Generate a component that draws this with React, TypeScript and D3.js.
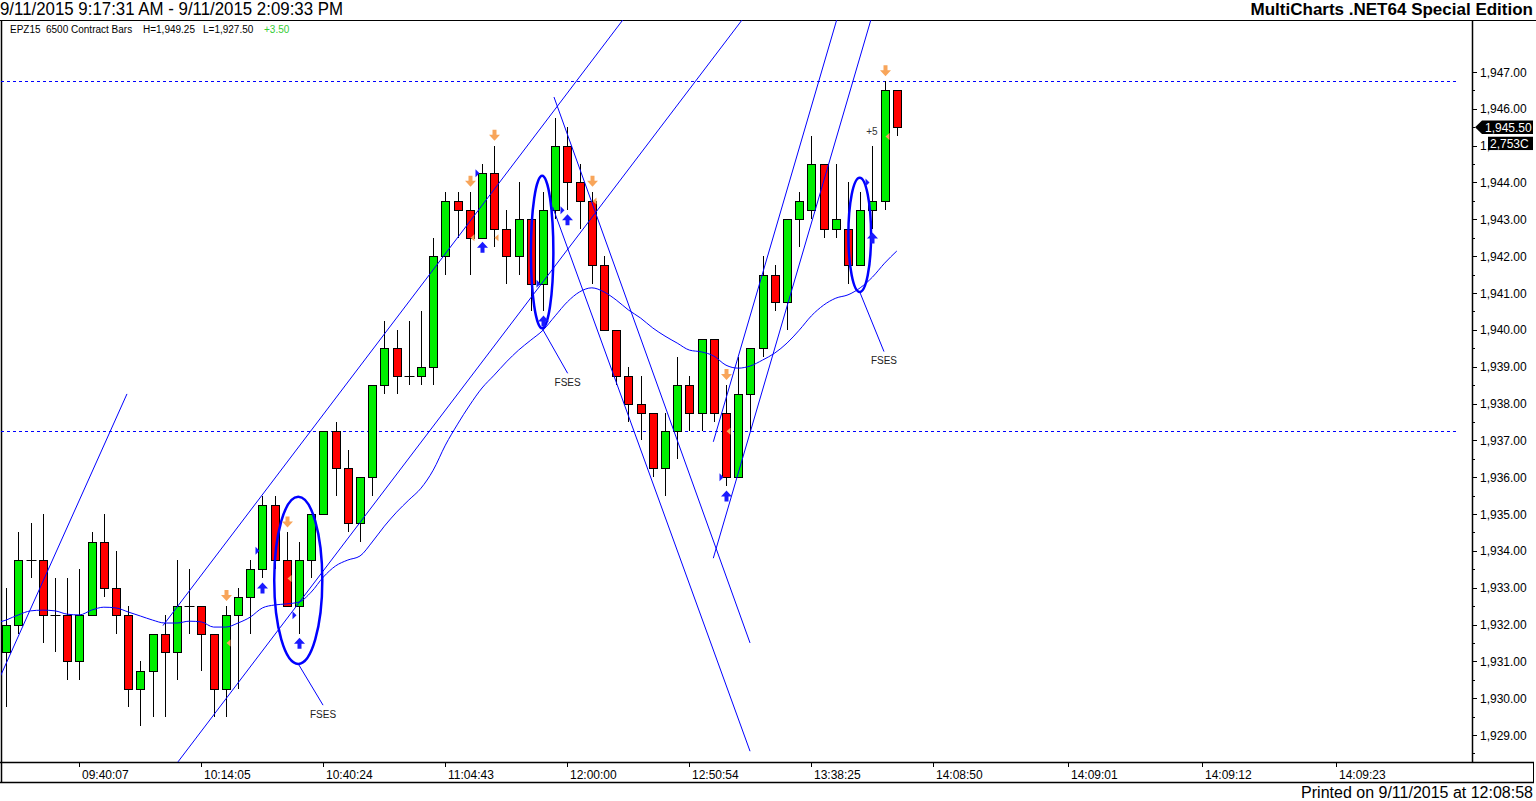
import * as d3 from 'd3'

// ---- bar data (EPZ15, 6500 contract bars) ----
const opens = [
  1931.25, 1932, 1933.75, 1933.75, 1932.25, 1932.25, 1931, 1932.25, 1934.25, 1933,
  1932.25, 1930.25, 1930.75, 1931.75, 1931.25, 1932.5, 1932.5, 1931.75, 1930.25, 1932.25,
  1932.75, 1933.5, 1935.25, 1933.75, 1932.5, 1933.75, 1935, 1937.25, 1936.25, 1934.75,
  1936, 1938.5, 1939.5, 1938.75, 1938.75, 1939, 1942, 1943.5, 1943.25, 1942.5,
  1944.25, 1942.75, 1942, 1943, 1941.25, 1943.25, 1945, 1944, 1943.5, 1941.75,
  1940, 1938.75, 1938, 1937.75, 1936.25, 1937.25, 1938.5, 1937.75, 1939.75, 1937.75,
  1936, 1938.25, 1939.5, 1941.5, 1940.75, 1943, 1943.25, 1944.5, 1942.75, 1942.75,
  1941.75, 1943.25, 1943.5, 1946.5,
]
const highs = [
  1933, 1934.5, 1934.75, 1935, 1933.25, 1933.25, 1933.5, 1934.5, 1935, 1934,
  1932.5, 1931, 1931.75, 1932.25, 1933.75, 1933.5, 1932.5, 1931.75, 1932.5, 1933,
  1933.75, 1935.5, 1935.5, 1934.5, 1934.25, 1935, 1937.25, 1937.5, 1936.75, 1936,
  1938.5, 1940.25, 1940, 1940.25, 1940.5, 1942.5, 1943.75, 1943.75, 1943.75, 1944.5,
  1945, 1943.25, 1944, 1943, 1943.75, 1945.75, 1945.5, 1944.5, 1943.75, 1942,
  1940, 1939, 1938.75, 1937.75, 1937.75, 1939.25, 1938.75, 1939.75, 1939.75, 1938.5,
  1939.25, 1939.5, 1942, 1941.75, 1943, 1943.75, 1945.25, 1944.5, 1944.5, 1944,
  1943.75, 1945, 1946.75, 1946.5,
]
const lows = [
  1929.75, 1931.75, 1933.25, 1931.5, 1931.25, 1930.5, 1930.5, 1932.25, 1932.75, 1931.75,
  1929.75, 1929.25, 1929.5, 1929.5, 1930.5, 1931.75, 1930.75, 1929.5, 1929.5, 1930.25,
  1931.75, 1933.25, 1933.5, 1932.5, 1931.75, 1933.25, 1935, 1935.5, 1934.5, 1934.25,
  1935.5, 1938.25, 1938.25, 1938.5, 1938.5, 1938.5, 1941.5, 1942.5, 1941.5, 1942.5,
  1942.25, 1941.25, 1941.5, 1940.5, 1940.5, 1943, 1943.25, 1942.75, 1941.25, 1940,
  1938.5, 1937.5, 1937, 1936, 1935.5, 1936.5, 1937.25, 1937.25, 1937.5, 1935.75,
  1936, 1937.25, 1939.25, 1940.5, 1940, 1942.25, 1943, 1942.5, 1942.5, 1941.25,
  1941.75, 1942.75, 1943.25, 1945.25,
]
const closes = [
  1932, 1933.75, 1933.75, 1932.25, 1932.25, 1931, 1932.25, 1934.25, 1933, 1932.25,
  1930.25, 1930.75, 1931.75, 1931.25, 1932.5, 1932.5, 1931.75, 1930.25, 1932.25, 1932.75,
  1933.5, 1935.25, 1933.75, 1932.5, 1933.75, 1935, 1937.25, 1936.25, 1934.75, 1936,
  1938.5, 1939.5, 1938.75, 1938.75, 1939, 1942, 1943.5, 1943.25, 1942.5, 1944.25,
  1942.75, 1942, 1943, 1941.25, 1943.25, 1945, 1944, 1943.5, 1941.75, 1940,
  1938.75, 1938, 1937.75, 1936.25, 1937.25, 1938.5, 1937.75, 1939.75, 1937.75, 1936,
  1938.25, 1939.5, 1941.5, 1940.75, 1943, 1943.5, 1944.5, 1942.75, 1943, 1941.75,
  1943.25, 1943.5, 1946.5, 1945.5,
]
// moving average, one value per bar
const maValues = [
  1932.12, 1932.26, 1932.37, 1932.39, 1932.37, 1932.28, 1932.26, 1932.39, 1932.47, 1932.45,
  1932.34, 1932.23, 1932.12, 1932.04, 1932.04, 1932.09, 1932.07, 1931.93, 1931.93, 1932.04,
  1932.2, 1932.45, 1932.53, 1932.56, 1932.61, 1932.88, 1933.29, 1933.59, 1933.75, 1933.86,
  1934.24, 1934.67, 1935.05, 1935.38, 1935.7, 1936.19, 1936.87, 1937.44, 1937.96, 1938.42,
  1938.77, 1939.13, 1939.45, 1939.72, 1939.99, 1940.38, 1940.76, 1941.03, 1941.14, 1941.03,
  1940.81, 1940.54, 1940.32, 1940.05, 1939.83, 1939.64, 1939.45, 1939.4, 1939.29, 1939.04,
  1938.96, 1939.02, 1939.18, 1939.37, 1939.64, 1939.99, 1940.38, 1940.67, 1940.86, 1940.95,
  1941.14, 1941.43, 1941.81, 1942.14,
]

const timeTickBars = [6, 16, 26, 36, 46, 56, 66, 76, 87, 98, 109]
const timeTickLabels = [
  '09:40:07', '10:14:05', '10:40:24', '11:04:43', '12:00:00', '12:50:54',
  '13:38:25', '14:08:50', '14:09:01', '14:09:12', '14:09:23',
]
const priceTicks = d3.range(1929, 1948)
const dashedLevels = [1946.75, 1937.25]

// drawn trend lines: [bar1, price1, bar2, price2]
const trendLines: [number, number, number, number][] = [
  [-0.51, 1930.57, 9.9, 1938.26],
  [12.85, 1931.97, 50.56, 1948.42],
  [14.08, 1928.27, 60.31, 1948.41],
  [44.9, 1946.32, 60.97, 1931.5],
  [44.8, 1943.33, 60.97, 1928.56],
  [57.96, 1936.96, 68.07, 1948.41],
  [57.96, 1933.8, 70.87, 1948.41],
]

// FSES ellipses
const fsesBar = [23.94, 43.93, 69.96]
const fsesPrice = [1933.2, 1942.11, 1942.58]
const fsesHalfBars = [1.97, 0.92, 0.93]
const fsesHalfPoints = [2.27, 2.07, 1.55]
const fsesLabelBar = [25.97, 46.02, 71.95]
const fsesLabelPrice = [1929.81, 1938.82, 1939.41]

// signals
const sellBars = [18, 23, 38, 40, 48, 59, 72]
const sellPrices = [1931.5, 1933.25, 1942.5, 1942.5, 1943.5, 1937.25, 1945.25]
const buyBars = [21, 24, 39, 44, 46, 59, 71]
const buyPrices = [1934, 1932.25, 1944.25, 1941.25, 1943.25, 1936, 1944]

const lastPrice = 1945.5
const lastVolume = '2,753C'

const W = 1536
const H = 801
const plot = { left: 1, right: 1472, top: 20, bottom: 762 }
const FONT = '"Liberation Sans", Arial, Helvetica, sans-serif'

export default function App() {
  const x = d3.scaleLinear().domain([0, 100]).range([6.2, 1226.2])
  const y = d3.scaleLinear().domain([1929, 1947]).range([735, 72])
  const fmt = d3.format(',.2f')
  const cx = (i: number) => Math.round(x(i))
  const cy = (p: number) => Math.round(y(p))

  // MA is drawn from the left edge of the plot
  const maPath = d3
    .line<number>()
    .x((_, i) => x(i))
    .y(d => y(d))
    .curve(d3.curveMonotoneX)(maValues) || ''
  const maStart = `M${plot.left},${y(maValues[0]) + 1.5} L${x(0)},${y(maValues[0])}`

  const bars = opens.map((o, i) => ({ i, o, h: highs[i], l: lows[i], c: closes[i] }))

  const downArrow = (ax: number, ay: number) =>
    `M${ax - 2},${ay - 6} h4 v5 h3.5 l-5.5,6 l-5.5,-6 h3.5 z`
  const upArrow = (ax: number, ay: number) =>
    `M${ax - 2},${ay + 6} h4 v-5 h3.5 l-5.5,-6 l-5.5,6 h3.5 z`

  const tagY = y(lastPrice)

  return (
    <svg
      width={W}
      height={H}
      style={{ position: 'absolute', left: 0, top: 0, background: '#fff' }}
      fontFamily={FONT}
    >
      <defs>
        <clipPath id="plotClip">
          <rect x={plot.left} y={plot.top} width={plot.right - plot.left} height={plot.bottom - plot.top} />
        </clipPath>
      </defs>
      <rect width={W} height={H} fill="#fff" />

      {/* header */}
      <text x={0} y={15} fontSize={17.5} fill="#000" textLength={343} lengthAdjust="spacingAndGlyphs">
        9/11/2015 9:17:31 AM - 9/11/2015 2:09:33 PM
      </text>
      <text x={1533} y={15} fontSize={17} fontWeight="bold" textAnchor="end" fill="#000">
        MultiCharts .NET64 Special Edition
      </text>

      {/* frame */}
      <line x1={0} x2={W} y1={20.5} y2={20.5} stroke="#000" />
      <line x1={1.5} x2={1.5} y1={20} y2={783} stroke="#000" strokeWidth={1.5} />
      <line x1={0} x2={1534} y1={762.5} y2={762.5} stroke="#000" strokeWidth={1.5} />
      <line x1={0} x2={1534} y1={782.5} y2={782.5} stroke="#000" strokeWidth={1.5} />
      <line x1={1533.5} x2={1533.5} y1={762} y2={783} stroke="#000" />
      <line x1={plot.right + 0.5} x2={plot.right + 0.5} y1={20} y2={762} stroke="#000" strokeWidth={1.5} />

      {/* legend */}
      <g fontSize={10} fill="#000">
        <text x={10} y={33}>EPZ15</text>
        <text x={46} y={33}>6500 Contract Bars</text>
        <text x={143} y={33}>H=1,949.25</text>
        <text x={203} y={33}>L=1,927.50</text>
        <text x={264} y={33} fill="#33cc33">+3.50</text>
      </g>

      <g clipPath="url(#plotClip)">
        {/* dashed levels */}
        {dashedLevels.map(p => (
          <line
            key={p}
            x1={plot.left}
            x2={1458}
            y1={cy(p) + 0.5}
            y2={cy(p) + 0.5}
            stroke="#0000ff"
            strokeDasharray="3,3"
          />
        ))}

        {/* candles */}
        {bars.map(b => {
          const xc = cx(b.i) + 0.5
          const top = cy(Math.max(b.o, b.c)) + 0.5
          const bot = cy(Math.min(b.o, b.c)) + 0.5
          return (
            <g key={b.i}>
              <line x1={xc} x2={xc} y1={cy(b.h)} y2={cy(b.l)} stroke="#000" />
              {b.o === b.c ? (
                <line x1={xc - 5} x2={xc + 5} y1={top} y2={top} stroke="#000" />
              ) : (
                <rect
                  x={xc - 4}
                  y={top}
                  width={8}
                  height={bot - top}
                  fill={b.c > b.o ? '#00ee00' : '#ff0000'}
                  stroke="#000"
                />
              )}
            </g>
          )
        })}

        {/* moving average */}
        <path d={maStart + maPath.replace(/^M/, 'L')} fill="none" stroke="#0000ff" strokeWidth={1} />

        {/* trend lines */}
        {trendLines.map((t, k) => (
          <line key={k} x1={x(t[0])} y1={y(t[1])} x2={x(t[2])} y2={y(t[3])} stroke="#0000ff" strokeWidth={1} />
        ))}

        {/* FSES ellipses */}
        {fsesBar.map((b, k) => {
          const ex = x(b)
          const ey = y(fsesPrice[k])
          const rx = x(b + fsesHalfBars[k]) - ex
          const ry = y(fsesPrice[k] - fsesHalfPoints[k]) - ey
          const lx = x(fsesLabelBar[k])
          const ly = y(fsesLabelPrice[k])
          return (
            <g key={k}>
              <ellipse cx={ex} cy={ey} rx={rx} ry={ry} fill="none" stroke="#0000ff" strokeWidth={2.5} />
              <line x1={ex} y1={ey + ry} x2={lx} y2={ly} stroke="#0000ff" strokeWidth={1} />
              <text x={lx} y={ly + 12.5} fontSize={10} textAnchor="middle" fill="#222">
                FSES
              </text>
            </g>
          )
        })}

        {/* sell signals */}
        {sellBars.map((b, k) => (
          <g key={`s${k}`} fill="#f8a55a">
            <path d={downArrow(cx(b) + 0.5, y(highs[b]) - 10)} />
            <path
              d={`M${cx(b) + 0.5},${y(sellPrices[k])} L${cx(b) + 4.5},${y(sellPrices[k]) - 3.5} L${cx(b) + 4.5},${y(sellPrices[k]) + 3.5} Z`}
            />
          </g>
        ))}

        {/* buy signals */}
        {buyBars.map((b, k) => (
          <g key={`b${k}`} fill="#1a1aff">
            <path d={upArrow(cx(b) + 0.5, y(lows[b]) + 9)} />
            <path
              d={`M${cx(b) - 6.5},${y(buyPrices[k]) - 4} L${cx(b) - 6.5},${y(buyPrices[k]) + 4} L${cx(b) - 2.5},${y(buyPrices[k])} Z`}
            />
          </g>
        ))}

        <text x={x(72) - 7} y={y(1945.25) - 1} fontSize={10} textAnchor="end" fill="#333">
          +5
        </text>
      </g>

      {/* price axis */}
      <g fontSize={12} fill="#000">
        {priceTicks.map(p => (
          <g key={p}>
            <line x1={plot.right} x2={plot.right + 5} y1={cy(p) + 0.5} y2={cy(p) + 0.5} stroke="#000" />
            <line
              x1={plot.right}
              x2={plot.right + 3}
              y1={cy(p - 0.5) + 0.5}
              y2={cy(p - 0.5) + 0.5}
              stroke="#000"
            />
            <text x={1480} y={y(p) + 4.5}>{fmt(p)}</text>
          </g>
        ))}
      </g>

      {/* last price tag */}
      <path
        d={`M${plot.right + 3},${tagY} L${1482},${tagY - 6.7} H1533 V${tagY + 6.7} H1482 Z`}
        fill="#000"
      />
      <text x={1485} y={tagY + 4.5} fontSize={12} fill="#fff">
        {fmt(lastPrice)}
      </text>
      <rect x={1488} y={tagY + 9.5} width={45} height={13.3} fill="#000" />
      <text x={1490} y={tagY + 20.5} fontSize={12} fill="#fff">
        {lastVolume}
      </text>

      {/* time axis */}
      <g fontSize={12} fill="#000">
        {timeTickBars.map((b, k) => (
          <g key={b}>
            <line x1={cx(b) + 0.5} x2={cx(b) + 0.5} y1={762} y2={767} stroke="#000" />
            <text x={cx(b) + 3} y={779}>{timeTickLabels[k]}</text>
          </g>
        ))}
      </g>

      <text x={1533} y={798} fontSize={16} textAnchor="end" fill="#000">
        Printed on 9/11/2015 at 12:08:58
      </text>
    </svg>
  )
}
